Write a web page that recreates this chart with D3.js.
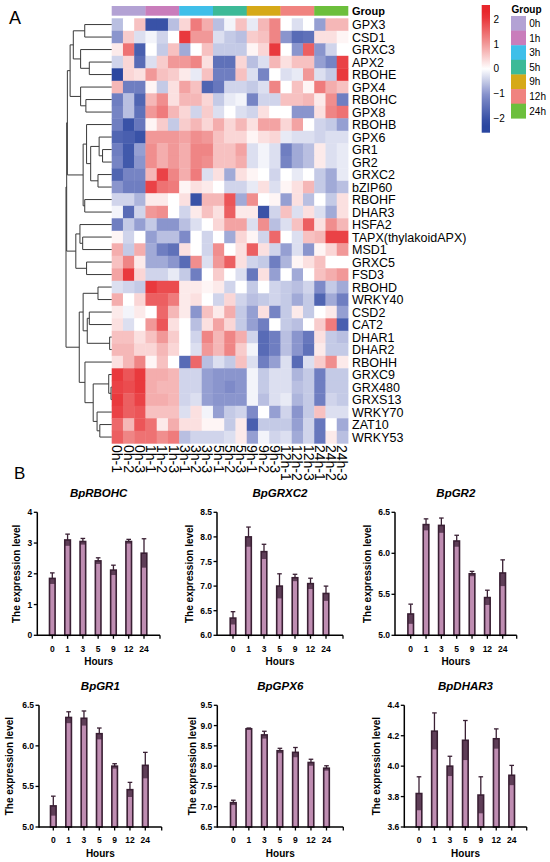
<!DOCTYPE html>
<html><head><meta charset="utf-8">
<script src="https://cdn.jsdelivr.net/npm/d3@7"></script>
<style>body{margin:0;background:#fff}svg{display:block;font-family:"Liberation Sans",Arial,Helvetica,sans-serif}</style>
</head><body><svg id="c" width="550" height="862"></svg>
<script>
// ---------------- DATA ----------------
const genes = ["GPX3","CSD1","GRXC3","APX2","RBOHE","GPX4","RBOHC","GPX8","RBOHB","GPX6","GR1","GR2","GRXC2","bZIP60","RBOHF","DHAR3","HSFA2","TAPX(thylakoidAPX)","MSD1","GRXC5","FSD3","RBOHD","WRKY40","CSD2","CAT2","DHAR1","DHAR2","RBOHH","GRXC9","GRX480","GRXS13","WRKY70","ZAT10","WRKY53"];
const groups = ["0h","1h","3h","5h","9h","12h","24h"];
const reps = ["1","2","3"];
const samples = groups.flatMap(g => reps.map(r => g + "-" + r));
const zscores = [
 [-0.6,0,0.6,-2,-2,-0.6,0.4,1.3,0.8,-0.6,-0.1,0.6,-0.2,0.7,1.2,0,-0.3,0,-0.9,0.7,0.7],
 [-1.0,0.5,-0.3,-0.1,-0.4,0,2.0,1.0,1.0,-0.3,-0.5,-0.6,0.5,0.6,1.2,-1.0,-1.6,-1.5,0.3,0.3,0.1],
 [0.2,1.4,-1.8,0,-0.5,0.6,-0.8,0,0.6,-0.5,-0.5,-0.5,0.1,0.4,2.0,0,-1.0,1.6,-1.0,-0.4,0],
 [-0.4,0.4,-1.6,-0.3,0.5,1.0,1.0,1.2,0.3,-1.5,-1.5,0.4,-0.6,-0.3,0.7,0.3,0.6,0.6,-0.9,-1.2,1.9],
 [-2.2,0.4,0.3,1.0,0.6,0.5,0.2,-0.2,0.6,-1.3,-1.3,0.6,-0.3,-1.2,0,-0.3,-0.2,1.0,-0.3,-0.5,2.0],
 [0.7,-1.3,-1.3,0.1,-0.5,0.3,0.9,0.6,-1.7,-1.4,-0.4,-0.4,-0.5,-0.3,1.2,0,0.6,0.1,1.3,0.8,0.6],
 [-1.3,-0.6,-1.7,0.7,1.1,0.3,0.7,0.7,0.4,-0.5,-0.2,-0.1,-1.2,-0.4,-0.4,0.6,0.6,0.7,0.2,1.1,-1.3],
 [-1.2,-0.6,-1.5,1.0,1.3,0.7,0.4,-0.4,0.5,-0.3,0,-0.3,-0.4,0.3,0,0,-1.0,-1.0,0.3,1.2,1.4],
 [-1.3,-2.0,-1.4,0.1,0.5,-0.5,0.5,0.7,0.4,0.8,0.4,0.7,0.3,0.9,0.9,0.4,0.9,0,-0.4,-0.5,-0.9],
 [-1.7,-1.8,-2.0,1.0,1.0,1.0,0.9,1.1,1.0,0.6,0.4,0.4,0.1,0.3,0.4,-0.2,-0.3,-0.3,-0.4,-0.3,-0.3],
 [-1.3,-1.9,-0.9,1.1,0.8,1.0,0.8,1.2,1.2,0.6,0.6,0.9,-0.3,-0.1,-0.3,-1.3,-0.8,-0.6,0.2,-0.3,-0.2],
 [-1.2,-1.9,-1.0,1.1,0.8,1.0,0.8,1.2,1.1,0.6,0.6,0.8,-0.3,-0.1,-0.3,-1.2,-0.8,-0.6,0.2,-0.3,-0.2],
 [-1.7,-1.2,-1.2,0.7,1.9,1.2,0.8,1.3,-0.3,0.3,-0.8,0.3,0.1,0,-0.4,0,-0.2,0,-0.5,-0.8,-0.2],
 [-1.0,-1.3,-1.3,1.9,1.4,1.3,0.1,0.3,0.2,0,-0.4,-0.4,-0.2,0.3,-0.3,0.1,0.3,0.7,-0.5,-0.8,-0.6],
 [-0.4,-0.4,-0.7,0.2,0.2,0,0.3,-2.0,0.7,0.7,1.7,-0.8,1.1,0,0.1,-0.9,0.3,-0.6,0,-0.5,0.3],
 [-0.1,-1.6,-0.4,1.0,1.1,0,-0.4,0.2,0.6,0.3,1.6,0.2,0.2,-2.0,-0.4,0.6,-0.3,0.3,-0.3,-0.8,0.3],
 [-1.3,-0.5,-0.9,-0.5,-1.0,-1.0,-0.6,-0.3,0,0.4,0.9,0.9,-0.3,1.1,-0.6,-0.3,0.6,1.6,0.3,1.1,0.7],
 [0.1,-0.4,0,-0.9,-0.6,-0.6,-1.1,0,-0.4,0,-0.8,0.4,0.1,-0.4,1.5,0,-0.3,0.6,0.7,1.9,1.9],
 [0.8,-0.5,0.8,-0.8,-1.3,-1.5,0.3,0,-0.4,1.1,0,0.3,1.6,0.3,-0.4,-0.9,-0.3,-1.0,0.1,0.4,1.0],
 [0.6,1.2,0.2,-0.8,-0.8,-1.0,-1.6,1.1,-0.3,1.0,1.6,0.3,-0.4,-0.5,-1.3,-0.7,0.1,0.3,0.6,0,0],
 [0.9,2.0,0.4,-0.4,-0.4,-0.2,-0.5,-1.3,0,0.5,0,-0.3,-1.4,0.3,-0.9,0,-0.8,0,0.6,0.8,1.0],
 [-0.3,-0.4,-0.5,2.0,1.8,1.8,0.2,0.2,0.1,0.2,-0.4,0,-0.5,0,-0.4,-0.5,-0.6,-0.4,-1.1,-0.5,-0.8],
 [0.8,0,0.4,1.6,1.6,1.3,0.2,0.3,0,-0.4,0.4,-0.4,-0.6,-0.5,-0.4,-0.5,-0.8,-0.5,-1.7,-0.8,-1.3],
 [0.2,-0.1,0.2,0,1.5,0.7,0.2,-1.0,0.6,0.2,0.8,-0.5,-0.9,0.3,-1.2,-0.5,0.2,-0.5,0,0.2,-0.9],
 [0.3,-0.3,0,1.0,1.7,0.3,0,-0.6,0.3,0.9,0.4,-0.5,-0.9,-1.3,0,-0.5,-0.6,0,0.5,1.3,-1.8],
 [0.6,0.6,0.3,0.6,1.0,0.5,0,-0.4,1.2,0.7,1.2,0.8,-0.4,-1.6,-1.3,-0.6,-1.0,-1.4,0.3,-0.5,-0.6],
 [0.7,0.7,0.4,0.4,0.7,0.4,0,-0.3,1.0,0.7,1.2,0.5,-0.1,-1.6,-1.3,-0.6,-1.0,-1.5,0.2,-0.5,-0.5],
 [0.3,0.7,1.2,0.1,0.6,0,-1.6,1.5,-0.6,-0.3,-0.5,0.6,-0.3,-1.3,-0.9,-0.3,-1.6,-0.3,0.5,1.1,0.2],
 [2.0,1.7,2.0,0.8,0.8,0.7,-0.4,-0.4,-0.9,-1.0,-1.0,-1.0,-0.1,-0.5,-0.3,-0.3,-0.7,-0.5,-1.3,-0.5,-0.5],
 [1.9,1.8,2.0,0.8,0.7,0.7,-0.4,-0.4,-0.9,-1.0,-1.1,-1.0,-0.1,-0.5,-0.3,-0.3,-0.6,-0.5,-1.3,-0.5,-0.5],
 [2.0,1.6,1.9,0.8,0.8,0.7,-0.4,-0.3,-0.9,-1.0,-1.0,-1.0,-0.1,-0.6,-0.3,-0.2,-0.7,-0.5,-1.3,-0.4,-0.5],
 [1.9,1.6,1.7,0.6,0.6,0.6,-0.3,0.3,-0.1,-0.9,-0.5,-0.4,-1.1,0,-0.9,-0.4,-1.0,-0.5,0.6,-0.3,-0.3],
 [1.5,0.7,1.7,1.4,0.2,0.8,0.3,0.3,0.1,0.1,-0.5,0.2,-1.8,-0.5,-0.5,-0.5,-0.9,-0.4,-1.4,0,-0.8],
 [1.6,1.2,1.4,1.4,1.1,1.3,-0.6,-0.4,-0.4,-0.4,-0.3,0.2,-0.9,-0.1,-0.4,-0.3,-0.8,-0.4,-1.4,0.2,-0.6]
];
// dendrogram merges: [id, childA, childB, height]
const merges = [
 ["n1","GPX3","CSD1",5.9],["n2","APX2","RBOHE",4.9],["n3","GRXC3","n2",6.8],["n4","n1","n3",8.4],
 ["n5","RBOHC","GPX8",5.65],["n6","GPX4","n5",6.8],["n7","n4","n6",9.1],
 ["g1","GR1","GR2",2.0],["g2","GPX6","g1",2.75],["g3","GRXC2","bZIP60",3.0],["g4","g2","g3",4.6],
 ["g5","RBOHB","g4",5.5],["g6","RBOHF","DHAR3",5.9],["g7","g5","g6",6.25],["U","n7","g7",9.7],
 ["m1","TAPX(thylakoidAPX)","MSD1",6.35],["m2","HSFA2","m1",6.95],["m3","GRXC5","FSD3",5.5],["m4","m2","m3",7.85],
 ["A","U","m4",9.85],
 ["b1","RBOHD","WRKY40",3.0],["b2","CSD2","CAT2",4.9],["b3","DHAR1","DHAR2",0.45],["b4","b2","b3",5.35],
 ["b5","b1","b4",6.25],["b6","GRX480","GRXS13",0.15],["b7","GRXC9","b6",0.65],["b8","ZAT10","WRKY53",2.6],
 ["b9","WRKY70","b8",3.2],["b10","b7","b9",4.05],["b11","RBOHH","b10",5.85],["b12","b5","b11",7.1],
 ["root","A","b12",10]
];
const legendTicks = [-2,-1,0,1,2];

const hours = ["0","1","3","5","9","12","24"];
const rbohcMean = [1.85,3.1,3.05,2.42,2.12,3.05,2.67], rbohcErr = [0.18,0.19,0.1,0.1,0.16,0.07,0.47];
const grxc2Mean = [6.35,8.0,7.7,7.0,7.17,7.05,6.85], grxc2Err = [0.13,0.2,0.15,0.25,0.07,0.11,0.15];
const gr2Mean = [5.26,6.35,6.34,6.15,5.75,5.46,5.76], gr2Err = [0.12,0.07,0.09,0.07,0.03,0.09,0.16];
const gr1Mean = [5.26,6.35,6.34,6.15,5.75,5.46,5.76], gr1Err = [0.12,0.07,0.09,0.07,0.03,0.09,0.16];
const gpx6Mean = [7.1,8.92,8.77,8.38,8.34,8.09,7.95], gpx6Err = [0.06,0.02,0.09,0.06,0.12,0.08,0.06];
const dhar3Mean = [3.82,4.23,4.0,4.17,3.81,4.18,3.94], dhar3Err = [0.11,0.12,0.065,0.13,0.12,0.065,0.065];
const rbohcTicks = [0,1,2,3,4];
const grxc2Ticks = [6.0,6.5,7.0,7.5,8.0,8.5];
const gr2Ticks = [5.0,5.5,6.0,6.5];
const gr1Ticks = [5.0,5.5,6.0,6.5];
const gpx6Ticks = [6.5,7.0,7.5,8.0,8.5,9.0,9.5];
const dhar3Ticks = [3.6,3.8,4.0,4.2,4.4];

// ---------------- STYLE ----------------
const groupColors = ["#b3a2d4","#c97dbb","#3fbfe9","#3dba97","#d6a918","#f0837f","#6cbf3c"];
const heat = d3.scaleLinear().domain([-2.2,-1.1,0,1.1,2.2])
  .range(["#2a46a0","#7e8ac8","#ffffff","#f08e8e","#e8262b"]).clamp(true);
const FF = '"Liberation Sans",Arial,Helvetica,sans-serif';
const svg = d3.select("#c");

// ---------------- HEATMAP ----------------
const hmL = 111.7, hmR = 348, hmT = 18.3, hmB = 443.3;
const xH = d3.scaleBand().domain(samples).range([hmL, hmR]);
const yH = d3.scaleBand().domain(genes).range([hmT, hmB]);
const cells = [];
genes.forEach((g,i) => samples.forEach((s,j) => cells.push({g, s, v: zscores[i][j]})));
svg.append("g").selectAll("rect").data(cells).join("rect")
  .attr("x", d => xH(d.s)).attr("y", d => yH(d.g))
  .attr("width", xH.bandwidth()+0.4).attr("height", yH.bandwidth()+0.4)
  .attr("fill", d => heat(d.v));

// group annotation bar
svg.append("g").selectAll("rect").data(groups).join("rect")
  .attr("x", g => xH(g+"-1")).attr("y", 6)
  .attr("width", g => xH(g+"-3") + xH.bandwidth() - xH(g+"-1") + 0.3).attr("height", 9.7)
  .attr("fill", (g,i) => groupColors[i]);
svg.append("text").attr("x", 352).attr("y", 15).attr("font-size", 11).attr("font-weight", "bold")
  .attr("font-family", FF).text("Group");

// row labels
svg.append("g").selectAll("text").data(genes).join("text")
  .attr("x", 352).attr("y", g => yH(g) + yH.bandwidth()/2).attr("dy", "0.36em")
  .attr("font-size", 12.5).attr("font-family", FF).attr("fill", "#000").text(g => g);

// column labels (rotated)
svg.append("g").selectAll("text").data(samples).join("text")
  .attr("transform", s => `translate(${xH(s) + xH.bandwidth()/2},445) rotate(90)`)
  .attr("dy", "0.35em").attr("font-size", 14).attr("font-family", FF).text(s => s);

// dendrogram
const nodes = {};
genes.forEach(g => nodes[g] = {name: g, h: 0, leaf: true});
merges.forEach(([id,a,b,h]) => nodes[id] = {name: id, h, children: [nodes[a], nodes[b]]});
const xD = d3.scaleLinear().domain([0, 10]).range([hmL, 66]);
function yOf(n){
  if (n.leaf) return yH(n.name) + yH.bandwidth()/2;
  if (n.y === undefined) n.y = (yOf(n.children[0]) + yOf(n.children[1]))/2;
  return n.y;
}
const dg = svg.append("g").attr("stroke", "#3a3a3a").attr("stroke-width", 1).attr("fill", "none");
merges.forEach(([id]) => {
  const n = nodes[id];
  const [c0, c1] = n.children;
  const path = d3.path();
  path.moveTo(xD(c0.h), yOf(c0)); path.lineTo(xD(n.h), yOf(c0));
  path.lineTo(xD(n.h), yOf(c1)); path.lineTo(xD(c1.h), yOf(c1));
  dg.append("path").attr("d", path.toString());
});

// colour legend
const lgY = d3.scaleLinear().domain([-2.56, 2.56]).range([132.7, 5]);
const grad = svg.append("defs").append("linearGradient").attr("id","hg")
  .attr("x1",0).attr("y1",1).attr("x2",0).attr("y2",0);
d3.range(0, 1.0001, 0.05).forEach(t => grad.append("stop").attr("offset", t)
  .attr("stop-color", heat(-2.56 + t*5.12)));
svg.append("rect").attr("x", 481.7).attr("y", lgY(2.56)).attr("width", 8.3)
  .attr("height", lgY(-2.56) - lgY(2.56)).attr("fill", "url(#hg)");
svg.append("g").selectAll("text").data(legendTicks).join("text")
  .attr("x", 493.5).attr("y", v => lgY(v)).attr("dy", "0.36em").attr("font-size", 10)
  .attr("font-family", FF).text(v => v < 0 ? "\u2212" + Math.abs(v) : v);

// group legend
svg.append("text").attr("x", 511.5).attr("y", 12.5).attr("font-size", 10).attr("font-weight","bold")
  .attr("font-family", FF).text("Group");
const gY = d3.scaleBand().domain(groups).range([16, 118.3]);
svg.append("g").selectAll("rect").data(groups).join("rect")
  .attr("x", 511).attr("y", g => gY(g)).attr("width", 15).attr("height", gY.bandwidth()+0.3)
  .attr("fill", (g,i) => groupColors[i]);
svg.append("g").selectAll("text").data(groups).join("text")
  .attr("x", 529.3).attr("y", g => gY(g) + gY.bandwidth()/2).attr("dy","0.36em")
  .attr("font-size", 10).attr("font-family", FF).text(g => g);

// panel letters
svg.append("text").attr("x", 9).attr("y", 23.5).attr("font-size", 18).attr("font-family", FF).text("A");
svg.append("text").attr("x", 14).attr("y", 478.5).attr("font-size", 17).attr("font-family", FF).text("B");

// ---------------- BAR CHARTS ----------------
const charts = [
 {title:"BpRBOHC", mean:rbohcMean, err:rbohcErr, ticks:rbohcTicks, fmt:d3.format("d")},
 {title:"BpGRXC2", mean:grxc2Mean, err:grxc2Err, ticks:grxc2Ticks, fmt:d3.format(".1f")},
 {title:"BpGR2", mean:gr2Mean, err:gr2Err, ticks:gr2Ticks, fmt:d3.format(".1f")},
 {title:"BpGR1", mean:gr1Mean, err:gr1Err, ticks:gr1Ticks, fmt:d3.format(".1f")},
 {title:"BpGPX6", mean:gpx6Mean, err:gpx6Err, ticks:gpx6Ticks, fmt:d3.format(".1f")},
 {title:"BpDHAR3", mean:dhar3Mean, err:dhar3Err, ticks:dhar3Ticks, fmt:d3.format(".1f")}
];
const rowGeo = [
 {top:512.3, base:635.3, title:497, xl:651.5, hl:665.3},
 {top:705.3, base:827, title:690, xl:842.5, hl:857}
];
const colGeo = [
 {ax:37.3, b0:52.3, b6:144, end:160, yl:16.7},
 {ax:217, b0:233, b6:326, end:343, yl:189},
 {ax:395, b0:410.7, b6:502.7, end:516.7, yl:367.5},
 {ax:39, b0:53.3, b6:145.3, end:161.7, yl:9.5},
 {ax:217.3, b0:233.3, b6:326.5, end:343.3, yl:192.7},
 {ax:404.3, b0:419, b6:511.7, end:526.7, yl:376}
];
const barFill = "#bf8db2", dark = "#3a2034";
charts.forEach((c, k) => {
  const r = rowGeo[Math.floor(k/3)], p = colGeo[k];
  const lo = d3.min(c.ticks), hi = d3.max(c.ticks);
  const y = d3.scaleLinear().domain([lo, hi]).range([r.base, r.top]);
  const x = d3.scalePoint().domain(hours).range([p.b0, p.b6]);
  const g = svg.append("g").attr("font-family", FF);
  const bw = 5.6;
  hours.forEach((h, i) => {
    const m = c.mean[i], e = c.err[i];
    g.append("rect").attr("x", x(h) - bw/2).attr("y", y(m)).attr("width", bw)
      .attr("height", r.base - y(m)).attr("fill", barFill).attr("stroke", dark).attr("stroke-width", 1.6);
    g.append("rect").attr("x", x(h) - bw/2).attr("y", y(m)).attr("width", bw)
      .attr("height", y(m - e) - y(m)).attr("fill", dark).attr("opacity", 0.72);
    g.append("line").attr("x1", x(h)).attr("x2", x(h)).attr("y1", y(m)).attr("y2", y(m + e))
      .attr("stroke", dark).attr("stroke-width", 1.3);
    g.append("line").attr("x1", x(h) - 2.3).attr("x2", x(h) + 2.3).attr("y1", y(m + e)).attr("y2", y(m + e))
      .attr("stroke", dark).attr("stroke-width", 1.3);
  });
  g.append("line").attr("x1", p.ax).attr("x2", p.end).attr("y1", r.base).attr("y2", r.base)
    .attr("stroke", "#000").attr("stroke-width", 1.5);
  [...hours.map(h => x(h)), p.end].forEach(xx => g.append("line").attr("x1", xx).attr("x2", xx)
    .attr("y1", r.base).attr("y2", r.base + 3.5).attr("stroke", "#000").attr("stroke-width", 1.3));
  g.selectAll(".xt").data(hours).join("text").attr("x", h => x(h)).attr("y", r.xl)
    .attr("text-anchor", "middle").attr("font-size", 8.5).attr("font-weight", "bold").text(h => h);
  g.append("line").attr("x1", p.ax).attr("x2", p.ax).attr("y1", r.base + 0.75).attr("y2", r.top)
    .attr("stroke", "#000").attr("stroke-width", 1.5);
  c.ticks.forEach(t => {
    g.append("line").attr("x1", p.ax - 3.5).attr("x2", p.ax).attr("y1", y(t)).attr("y2", y(t))
      .attr("stroke", "#000").attr("stroke-width", 1.3);
    g.append("text").attr("x", p.ax - 5).attr("y", y(t)).attr("dy", "0.36em").attr("text-anchor", "end")
      .attr("font-size", 8.5).attr("font-weight", "bold").text(c.fmt(t));
  });
  g.append("text").attr("x", (p.ax + p.end)/2).attr("y", r.hl).attr("text-anchor", "middle")
    .attr("font-size", 10).attr("font-weight", "bold").text("Hours");
  g.append("text").attr("transform", `translate(${p.yl},${(r.top + r.base)/2}) rotate(-90)`)
    .attr("dy", "0.36em").attr("text-anchor", "middle").attr("font-size", 10).attr("font-weight", "bold")
    .text("The expression level");
  g.append("text").attr("x", (p.ax + p.end)/2).attr("y", r.title).attr("text-anchor", "middle")
    .attr("font-size", 11.5).attr("font-weight", "bold").attr("font-style", "italic").text(c.title);
});
</script></body></html>
